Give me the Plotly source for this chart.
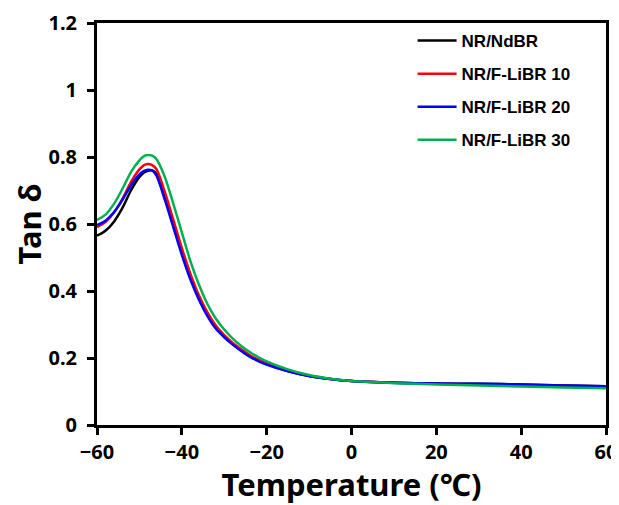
import plotly.graph_objects as go

temperature = [-60, -58, -56, -54, -52, -50, -49, -48, -47, -46, -44, -42, -40, -38, -36, -34, -32,
               -30, -28, -26, -24, -22, -20, -15, -10, -5, 0, 10, 20, 30, 40, 50, 60]

tan_nr_ndbr = [0.565, 0.580, 0.607, 0.648, 0.700, 0.740, 0.753, 0.759, 0.760, 0.750, 0.685, 0.600,
               0.518, 0.443, 0.380, 0.331, 0.292, 0.265, 0.242, 0.223, 0.206, 0.193, 0.182, 0.161,
               0.146, 0.137, 0.131, 0.126, 0.124, 0.123, 0.121, 0.118, 0.116]
tan_libr10 = [0.591, 0.606, 0.634, 0.675, 0.725, 0.763, 0.775, 0.779, 0.776, 0.764, 0.695, 0.612,
              0.528, 0.452, 0.388, 0.337, 0.297, 0.268, 0.245, 0.226, 0.209, 0.195, 0.184, 0.162,
              0.147, 0.137, 0.131, 0.126, 0.123, 0.122, 0.119, 0.117, 0.115]
tan_libr20 = [0.597, 0.610, 0.635, 0.672, 0.715, 0.748, 0.758, 0.762, 0.760, 0.745, 0.672, 0.590,
              0.508, 0.435, 0.375, 0.326, 0.288, 0.262, 0.240, 0.221, 0.204, 0.191, 0.180, 0.160,
              0.146, 0.137, 0.131, 0.126, 0.124, 0.123, 0.121, 0.118, 0.116]
tan_libr30 = [0.612, 0.628, 0.660, 0.705, 0.755, 0.790, 0.802, 0.806, 0.804, 0.794, 0.740, 0.660,
              0.575, 0.490, 0.420, 0.362, 0.318, 0.285, 0.258, 0.236, 0.218, 0.203, 0.190, 0.166,
              0.149, 0.138, 0.131, 0.125, 0.121, 0.118, 0.115, 0.112, 0.110]

series_names = ["NR/NdBR", "NR/F-LiBR 10", "NR/F-LiBR 20", "NR/F-LiBR 30"]
series_values = [tan_nr_ndbr, tan_libr10, tan_libr20, tan_libr30]
series_colors = ["#000000", "#ff0000", "#0000ff", "#00b050"]

x_ticks = [-60, -40, -20, 0, 20, 40, 60]
y_ticks = [0, 0.2, 0.4, 0.6, 0.8, 1.0, 1.2]
y_tick_text = ["0", "0.2", "0.4", "0.6", "0.8", "1", "1.2"]

fig = go.Figure()
for i, (name, vals, col) in enumerate(zip(series_names, series_values, series_colors)):
    fig.add_trace(go.Scatter(
        x=temperature, y=vals, mode="lines", name=name,
        line=dict(color=col, width=2.5, shape="spline", smoothing=0.8),
        legendgroup=f"g{i}",
    ))

tick_font = dict(family="Noto Sans", size=20, color="#000000", weight="bold")
title_font = dict(family="Noto Sans", size=31, color="#000000", weight="bold")

fig.update_layout(
    width=611, height=497,
    margin=dict(l=89, r=13, t=15, b=80),
    paper_bgcolor="white", plot_bgcolor="white",
    showlegend=True,
    legend=dict(
        x=0.62, y=1.0, xanchor="left", yanchor="top",
        font=dict(family="Liberation Sans", size=17, color="#000000", weight="bold"),
        bgcolor="rgba(0,0,0,0)", traceorder="grouped", tracegroupgap=8,
        itemwidth=39,
    ),
    xaxis=dict(
        range=[-60, 60], tickvals=x_ticks, showgrid=False, zeroline=False,
        showline=True, linecolor="black", linewidth=3, mirror=True,
        ticks="outside", ticklen=7, tickwidth=2.5, tickcolor="black",
        tickfont=tick_font, automargin=False,
        title=dict(text="Temperature (℃)", standoff=6, font=title_font),
    ),
    yaxis=dict(
        range=[0, 1.2], tickvals=y_ticks, ticktext=y_tick_text, showgrid=False, zeroline=False,
        showline=True, linecolor="black", linewidth=3, mirror=True,
        ticks="outside", ticklen=7, tickwidth=2.5, tickcolor="black",
        tickfont=tick_font, ticklabelstandoff=6, automargin=False,
        title=dict(text="Tan δ", standoff=14, font=title_font),
    ),
)

fig.write_html("out.html")
